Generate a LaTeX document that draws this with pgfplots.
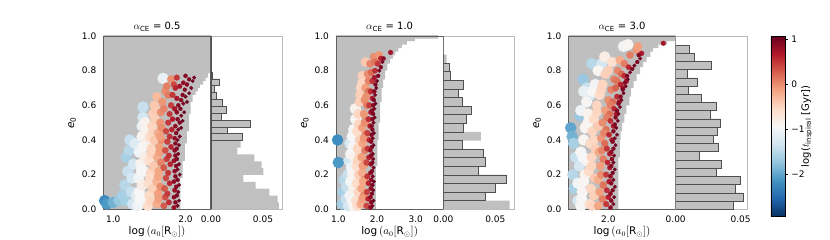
\documentclass[border=0pt]{standalone}
\usepackage{fontspec}
\setmainfont{DejaVu Sans}
\usepackage{amsmath}
\usepackage{pgfplots}
\usepackage{pgfplotstable}
\pgfplotsset{compat=1.18}

\definecolor{bggray}{RGB}{191,191,191}
\definecolor{histgray}{RGB}{192,192,192}
\definecolor{edgegray}{RGB}{80,80,80}
\definecolor{framegray}{RGB}{95,95,95}
\definecolor{lightframe}{RGB}{185,185,185}
\newcommand\tfont{\fontsize{9}{10}\selectfont}
\newcommand\lfont{\fontsize{10.5}{12}\selectfont}
\newcommand\ttfont{\fontsize{10}{11}\selectfont}

\pgfplotstableread{
x e c
0.88 0.05 -2.2
0.91 0.03 -2.1
1.00 0.04 -1.9
1.08 0.05 -1.7
1.13 0.08 -1.6
1.17 0.05 -1.6
1.16 0.14 -1.5
1.18 0.30 -1.6
1.22 0.34 -1.5
1.20 0.22 -1.4
1.25 0.10 -1.4
1.26 0.18 -1.3
1.28 0.26 -1.3
1.23 0.40 -1.4
1.30 0.38 -1.2
1.27 0.03 -1.3
1.32 0.08 -1.2
1.41 0.59 -1.4
1.41 0.53 -1.3
1.40 0.48 -1.1
1.69 0.755 -1.1
1.34 0.02 -1.0
1.36 0.10 -0.95
1.35 0.18 -1.0
1.38 0.26 -0.9
1.36 0.33 -1.0
1.40 0.42 -0.9
1.44 0.50 -0.85
1.43 0.06 -0.85
1.40 0.14 -0.8
1.42 0.22 -0.85
1.44 0.30 -0.8
1.45 0.38 -0.8
1.37 0.06 -0.95
1.39 0.22 -0.95
1.41 0.36 -0.9
1.46 0.45 -0.85
1.48 0.02 -0.6
1.50 0.08 -0.55
1.49 0.15 -0.6
1.52 0.21 -0.5
1.50 0.28 -0.6
1.53 0.35 -0.5
1.51 0.42 -0.55
1.54 0.48 -0.5
1.55 0.55 -0.45
1.57 0.60 -0.4
1.55 0.12 -0.45
1.56 0.25 -0.4
1.57 0.40 -0.4
1.60 0.65 -0.3
1.52 0.05 -0.5
1.51 0.18 -0.55
1.53 0.32 -0.5
1.55 0.45 -0.5
1.58 0.52 -0.45
1.60 0.57 -0.4
1.60 0.03 -0.2
1.62 0.09 -0.1
1.60 0.16 -0.25
1.63 0.22 -0.15
1.61 0.30 -0.2
1.64 0.36 -0.1
1.62 0.44 -0.2
1.65 0.50 -0.05
1.66 0.56 0.0
1.68 0.62 -0.05
1.72 0.68 0.0
1.80 0.75 0.0
1.76 0.66 0.1
1.65 0.13 0.0
1.66 0.27 0.05
1.67 0.40 0.0
1.63 0.06 -0.1
1.62 0.19 -0.15
1.64 0.33 -0.1
1.65 0.42 -0.1
1.67 0.47 0.0
1.70 0.58 0.05
1.74 0.71 0.1
1.70 0.02 0.3
1.72 0.07 0.35
1.71 0.12 0.3
1.73 0.18 0.4
1.70 0.24 0.3
1.74 0.29 0.45
1.72 0.34 0.35
1.75 0.39 0.45
1.73 0.45 0.4
1.76 0.50 0.5
1.78 0.55 0.5
1.80 0.60 0.45
1.82 0.66 0.5
1.84 0.72 0.4
1.88 0.76 0.5
1.77 0.04 0.55
1.78 0.15 0.6
1.79 0.26 0.6
1.80 0.36 0.6
1.81 0.46 0.6
1.86 0.70 0.6
1.75 0.09 0.5
1.76 0.21 0.5
1.77 0.31 0.55
1.78 0.42 0.55
1.82 0.52 0.65
1.85 0.58 0.7
1.88 0.64 0.7
1.92 0.71 0.75
1.84 0.01 0.8
1.89 0.02 1.0
1.86 0.04 0.9
1.91 0.05 1.05
1.84 0.07 0.85
1.88 0.08 0.95
1.90 0.10 1.0
1.85 0.11 0.8
1.87 0.13 0.9
1.91 0.14 1.0
1.84 0.16 0.85
1.89 0.17 0.95
1.86 0.19 0.9
1.92 0.20 1.05
1.85 0.22 0.85
1.89 0.23 1.0
1.87 0.25 0.9
1.91 0.26 1.0
1.84 0.28 0.8
1.88 0.29 0.95
1.86 0.31 0.9
1.90 0.32 1.0
1.85 0.34 0.85
1.88 0.35 0.95
1.91 0.37 1.05
1.86 0.38 0.9
1.89 0.40 1.0
1.85 0.41 0.85
1.92 0.42 1.0
1.87 0.44 0.9
1.90 0.46 1.0
1.94 0.47 1.05
1.86 0.48 0.85
1.92 0.50 0.95
1.96 0.51 1.05
1.89 0.52 0.9
1.94 0.54 1.0
1.88 0.56 0.85
1.98 0.56 1.05
1.93 0.58 0.95
1.90 0.60 0.9
1.97 0.61 1.0
2.02 0.62 1.05
1.94 0.63 0.9
2.00 0.65 1.0
1.96 0.66 0.95
2.05 0.67 1.05
1.99 0.69 0.95
2.08 0.70 1.0
2.02 0.72 0.9
1.97 0.73 0.85
2.10 0.74 1.05
2.05 0.75 0.95
2.12 0.76 1.0
2.00 0.77 0.9
}\pa

\pgfplotstableread{
x e c
0.98 0.40 -2.2
1.00 0.27 -2.1
1.10 0.03 -1.6
1.12 0.10 -1.6
1.15 0.17 -1.5
1.20 0.06 -1.4
1.22 0.13 -1.4
1.25 0.20 -1.4
1.26 0.02 -1.3
1.30 0.38 -1.3
1.28 0.28 -1.3
1.30 0.08 -1.0
1.32 0.16 -0.95
1.34 0.24 -1.0
1.32 0.32 -0.9
1.36 0.42 -0.95
1.40 0.02 -0.9
1.40 0.12 -0.85
1.42 0.30 -0.85
1.45 0.52 -0.9
1.40 0.46 -0.9
1.36 0.05 -0.95
1.37 0.20 -0.9
1.38 0.36 -0.95
1.44 0.58 -0.85
1.46 0.05 -0.6
1.48 0.15 -0.55
1.47 0.25 -0.6
1.50 0.35 -0.5
1.49 0.45 -0.55
1.52 0.55 -0.5
1.55 0.62 -0.45
1.58 0.70 -0.5
1.62 0.77 -0.45
1.70 0.85 -0.4
1.52 0.10 -0.5
1.53 0.20 -0.45
1.54 0.30 -0.5
1.55 0.40 -0.45
1.50 0.02 -0.55
1.51 0.28 -0.5
1.53 0.49 -0.5
1.56 0.66 -0.45
1.62 0.73 -0.5
1.58 0.03 -0.2
1.60 0.12 -0.15
1.62 0.21 -0.2
1.60 0.30 -0.1
1.63 0.38 -0.15
1.62 0.47 -0.1
1.66 0.55 -0.05
1.68 0.63 0.0
1.70 0.70 -0.1
1.76 0.78 0.0
1.82 0.84 0.05
1.92 0.88 0.0
2.05 0.89 -0.05
1.66 0.08 0.0
1.67 0.17 0.05
1.68 0.26 0.0
1.69 0.34 0.1
1.70 0.43 0.05
1.72 0.51 0.1
1.74 0.60 0.1
1.78 0.68 0.15
1.85 0.79 0.2
1.95 0.85 0.15
1.62 0.06 -0.1
1.64 0.16 -0.15
1.63 0.25 -0.1
1.66 0.41 -0.05
1.68 0.50 0.0
1.72 0.65 0.0
1.78 0.74 0.05
1.73 0.02 0.4
1.74 0.10 0.45
1.75 0.19 0.5
1.73 0.27 0.4
1.76 0.35 0.5
1.75 0.44 0.45
1.78 0.52 0.55
1.80 0.60 0.5
1.84 0.68 0.55
1.88 0.74 0.5
1.95 0.80 0.55
2.02 0.84 0.5
2.10 0.87 0.6
1.77 0.06 0.6
1.78 0.15 0.6
1.79 0.30 0.65
1.80 0.40 0.6
1.82 0.48 0.65
1.84 0.56 0.7
1.88 0.64 0.7
1.93 0.76 0.7
1.83 0.01 0.85
1.88 0.02 1.0
1.85 0.04 0.9
1.91 0.05 1.05
1.83 0.07 0.85
1.87 0.09 0.95
1.90 0.11 1.0
1.84 0.12 0.85
1.88 0.14 0.95
1.92 0.16 1.05
1.85 0.17 0.9
1.89 0.19 1.0
1.83 0.21 0.85
1.87 0.22 0.95
1.91 0.24 1.05
1.84 0.26 0.85
1.88 0.27 0.95
1.90 0.29 1.0
1.85 0.31 0.9
1.89 0.32 1.0
1.83 0.34 0.85
1.87 0.36 0.95
1.91 0.37 1.05
1.85 0.39 0.9
1.89 0.41 1.0
1.86 0.43 0.9
1.92 0.44 1.05
1.88 0.46 0.95
1.86 0.48 0.9
1.91 0.50 1.0
1.88 0.52 0.9
1.94 0.53 1.05
1.90 0.55 0.95
1.87 0.57 0.9
1.93 0.58 1.0
1.90 0.60 0.9
1.96 0.61 1.05
1.92 0.63 0.95
1.95 0.66 1.0
1.93 0.68 0.9
1.98 0.70 1.05
1.96 0.72 0.95
2.00 0.74 1.0
2.03 0.77 0.95
2.06 0.80 1.0
2.10 0.82 0.95
2.14 0.85 1.0
2.17 0.87 0.9
2.35 0.905 0.75
}\pb

\pgfplotstableread{
x e c
1.48 0.47 -2.0
1.50 0.42 -1.9
1.52 0.38 -1.6
1.53 0.12 -1.6
1.51 0.20 -1.5
1.61 0.54 -1.7
1.65 0.75 -1.7
1.77 0.84 -1.5
1.91 0.84 -1.3
1.75 0.66 -1.3
1.70 0.70 -1.4
1.55 0.30 -1.4
1.58 0.05 -1.3
1.60 0.25 -1.3
1.62 0.57 -1.0
1.58 0.15 -1.0
1.62 0.02 -0.95
1.64 0.10 -0.9
1.62 0.33 -0.95
1.66 0.40 -0.9
1.68 0.47 -0.9
1.70 0.62 -0.9
1.68 0.20 -0.85
1.70 0.28 -0.85
1.82 0.72 -1.0
1.86 0.80 -0.9
2.21 0.94 -1.0
2.27 0.95 -0.9
1.72 0.55 -0.85
1.66 0.68 -1.1
1.63 0.06 -0.95
1.66 0.16 -0.9
1.65 0.30 -0.95
1.72 0.50 -0.9
1.78 0.68 -0.95
1.95 0.88 -0.8
1.74 0.03 -0.6
1.76 0.12 -0.5
1.73 0.22 -0.55
1.77 0.30 -0.5
1.75 0.38 -0.55
1.78 0.45 -0.5
1.80 0.52 -0.55
1.84 0.60 -0.5
1.88 0.66 -0.55
1.92 0.72 -0.5
1.96 0.78 -0.45
2.05 0.85 -0.6
1.80 0.08 -0.45
1.81 0.18 -0.4
1.82 0.35 -0.45
1.86 0.48 -0.4
1.78 0.02 -0.5
1.77 0.25 -0.5
1.80 0.40 -0.5
1.84 0.56 -0.5
1.90 0.69 -0.5
2.00 0.80 -0.45
1.86 0.02 -0.15
1.88 0.10 -0.1
1.86 0.17 -0.2
1.89 0.25 -0.1
1.87 0.33 -0.15
1.90 0.41 -0.05
1.92 0.50 0.0
1.96 0.57 -0.1
2.00 0.63 0.0
2.04 0.69 0.05
2.08 0.75 0.1
2.13 0.80 0.05
2.16 0.86 -0.2
2.30 0.89 0.1
2.39 0.92 -0.05
2.41 0.94 -0.1
1.92 0.06 0.1
1.93 0.14 0.15
1.93 0.29 0.1
1.95 0.38 0.2
1.97 0.46 0.15
2.02 0.55 0.2
2.06 0.62 0.2
2.10 0.70 0.25
2.18 0.78 0.2
1.90 0.20 0.0
1.91 0.34 0.05
1.94 0.44 0.05
1.98 0.53 0.1
2.03 0.60 0.1
2.12 0.74 0.15
2.22 0.84 0.1
1.97 0.03 0.5
1.98 0.11 0.55
1.97 0.20 0.5
1.99 0.27 0.6
1.98 0.35 0.5
2.01 0.43 0.6
2.03 0.51 0.55
2.08 0.58 0.6
2.12 0.65 0.55
2.17 0.72 0.6
2.22 0.77 0.55
2.28 0.82 0.6
2.46 0.90 0.7
2.76 0.958 0.75
2.00 0.07 0.65
2.01 0.16 0.65
2.02 0.24 0.7
2.02 0.32 0.65
2.05 0.40 0.7
2.07 0.48 0.7
2.11 0.55 0.7
2.15 0.62 0.75
2.20 0.70 0.75
2.25 0.74 0.7
2.03 0.01 0.85
2.07 0.03 1.0
2.04 0.05 0.9
2.08 0.07 1.05
2.03 0.09 0.85
2.06 0.11 0.95
2.09 0.13 1.0
2.04 0.15 0.9
2.07 0.17 1.0
2.03 0.19 0.85
2.06 0.21 0.95
2.09 0.23 1.05
2.04 0.25 0.9
2.07 0.27 1.0
2.05 0.29 0.9
2.08 0.31 1.0
2.04 0.33 0.85
2.07 0.35 0.95
2.10 0.37 1.05
2.06 0.39 0.9
2.09 0.41 1.0
2.12 0.43 1.05
2.07 0.45 0.9
2.11 0.47 1.0
2.09 0.49 0.95
2.13 0.51 1.05
2.10 0.53 0.9
2.14 0.55 1.0
2.12 0.57 0.95
2.16 0.59 1.05
2.14 0.61 0.9
2.18 0.63 1.0
2.17 0.65 0.9
2.21 0.67 1.05
2.20 0.69 0.95
2.24 0.71 1.0
2.23 0.73 0.9
2.27 0.75 1.05
2.26 0.77 0.95
2.30 0.79 1.0
2.33 0.81 0.95
2.36 0.83 1.05
2.40 0.85 0.95
2.44 0.87 1.0
2.42 0.89 0.9
}\pc

\pgfplotsset{
  colormap={rdbur}{rgb255=(5,48,97) rgb255=(33,102,172) rgb255=(67,147,195) rgb255=(146,197,222) rgb255=(209,229,240) rgb255=(247,247,247) rgb255=(253,219,199) rgb255=(244,165,130) rgb255=(214,96,77) rgb255=(178,24,43) rgb255=(103,0,31)},
  sc/.style={
    scale only axis, width=107.5pt, height=173.3pt,
    ymin=0, ymax=1, ytick={0,0.2,0.4,0.6,0.8,1},
    yticklabels={0.0,0.2,0.4,0.6,0.8,1.0},
    major tick length=0pt, axis on top,
    axis line style={draw=framegray, line width=0.7pt},
    tick label style={font=\tfont},
    yticklabel style={xshift=-3.5pt},
    xticklabel style={yshift=-3pt},
    label style={font=\lfont},
    ylabel={\textit{e}\textsubscript{0}},
    ylabel style={at={(axis description cs:-0.29,0.5)}, anchor=center},
    xlabel={$\log\,(a_0[\text{R}_\odot])$},
    xlabel style={at={(axis description cs:0.5,0)}, anchor=center, yshift=-22.5pt},
    title style={font=\ttfont, at={(axis description cs:0.5,1)}, anchor=center, yshift=3.5pt},
    point meta min=-2.95, point meta max=1.07, colormap name=rdbur,
  },
  hi/.style={
    scale only axis, height=173.3pt, ymin=0, ymax=1, ytick=\empty, xmin=0,
    xtick={0,0.05}, xticklabels={0.00,0.05}, scaled x ticks=false, major tick length=0pt,
    axis line style={draw=lightframe, line width=0.6pt},
    tick label style={font=\tfont}, xticklabel style={yshift=-3pt},
  },
  pts/.style={
    scatter, only marks, mark=*, point meta=explicit,
    scatter/use mapped color={draw=mapped color, fill=mapped color},
    mark options={line width=0.2pt},
    visualization depends on={\thisrow{c} \as \cval},
    scatter/@pre marker code/.append style={/tikz/mark size={max(1.6,min(5.6,3.9-2.0*\cval))}},
  },
  hfill/.style={xbar interval, fill=histgray, draw=none},
  hline/.style={xbar interval, fill=histgray, draw=edgegray, line width=0.7pt},
}

\begin{document}
\begin{tikzpicture}
\useasboundingbox (0,0) rectangle (830pt,240pt);

% ---------- panel 1 ----------
\begin{axis}[sc, at={(103.3pt,30.7pt)}, anchor=south west,
  xmin=0.862, xmax=2.35, xtick={1,2}, xticklabels={1.0,2.0},
  title={$\alpha_{\text{CE}}$ = 0.5}]
\addplot[fill=bggray, draw=none] coordinates {(0.8,0) (1.93,0) (1.93,0.18) (1.96,0.18) (1.96,0.28) (1.99,0.28) (1.99,0.38) (2.02,0.38) (2.02,0.45) (2.05,0.45) (2.05,0.55) (2.07,0.55) (2.07,0.62) (2.10,0.62) (2.10,0.66) (2.14,0.66) (2.14,0.68) (2.17,0.68) (2.17,0.70) (2.20,0.70) (2.20,0.72) (2.24,0.72) (2.24,0.74) (2.28,0.74) (2.28,0.76) (2.31,0.76) (2.31,0.785) (2.4,0.785) (2.4,1.01) (0.8,1.01)} -- cycle;
\addplot[pts] table[x=x, y=e, meta=c] {\pa};
\end{axis}
\begin{axis}[hi, at={(211pt,30.7pt)}, anchor=south west, width=71.3pt, xmax=0.0686]
\addplot[hfill] coordinates {(0.0654,0) (0.0641,0.0396) (0.0561,0.0792) (0.0430,0.1188) (0.0311,0.1584) (0.0503,0.198) (0.0487,0.2376) (0.0417,0.2772) (0.0253,0.3168) (0.0285,0.3564) (0.0305,0.396) (0.0160,0.4356) (0.0382,0.4752) (0.0103,0.5148) (0.0151,0.5544) (0.0109,0.594) (0.0055,0.6336) (0.0032,0.6732) (0.0080,0.7128) (0.0013,0.7524) (0,0.792)};
\addplot[hline] coordinates {(0.0305,0.396) (0.0160,0.4356) (0.0382,0.4752) (0.0103,0.5148) (0.0151,0.5544) (0.0109,0.594) (0.0055,0.6336) (0.0032,0.6732) (0.0080,0.7128) (0.0013,0.7524) (0,0.792)};
\draw[edgegray, line width=0.9pt] (axis cs:0,0) -- (axis cs:0,1);
\end{axis}

% ---------- panel 2 ----------
\begin{axis}[sc, at={(336pt,30.7pt)}, anchor=south west, width=107.3pt,
  xmin=0.94, xmax=3.713, xtick={1,2,3}, xticklabels={1.0,2.0,3.0},
  title={$\alpha_{\text{CE}}$ = 1.0}]
\addplot[fill=bggray, draw=none] coordinates {(0.9,0) (1.97,0) (1.97,0.25) (2.01,0.25) (2.01,0.40) (2.04,0.40) (2.04,0.50) (2.08,0.50) (2.08,0.62) (2.12,0.62) (2.12,0.70) (2.16,0.70) (2.16,0.75) (2.21,0.75) (2.21,0.80) (2.27,0.80) (2.27,0.84) (2.34,0.84) (2.34,0.87) (2.41,0.87) (2.41,0.89) (2.47,0.89) (2.47,0.91) (2.55,0.91) (2.55,0.93) (2.64,0.93) (2.64,0.95) (2.77,0.95) (2.77,0.97) (2.98,0.97) (2.98,0.985) (3.58,0.985) (3.58,1.01) (0.9,1.01)} -- cycle;
\addplot[pts] table[x=x, y=e, meta=c] {\pb};
\end{axis}
\begin{axis}[hi, at={(443.3pt,30.7pt)}, anchor=south west, width=71pt, xmax=0.0683]
\addplot[hfill] coordinates {(0.0639,0) (0.0403,0.0496) (0.0504,0.0992) (0.0607,0.1488) (0.0334,0.1984) (0.0400,0.248) (0.0390,0.2976) (0.0179,0.3472) (0.0362,0.3968) (0.0195,0.4464) (0.0220,0.496) (0.0268,0.5456) (0.0183,0.5952) (0.0148,0.6448) (0.0195,0.6944) (0.0069,0.744) (0.0057,0.7936) (0.0031,0.8432) (0,0.8928) (0,0.9424) (0,0.992)};
\addplot[hline] coordinates {(0,0) (0.0403,0.0496) (0.0504,0.0992) (0.0607,0.1488) (0.0334,0.1984) (0.0400,0.248) (0.0390,0.2976) (0.0179,0.3472) (0,0.3968) (0.0195,0.4464) (0.0220,0.496) (0.0268,0.5456) (0.0183,0.5952) (0.0148,0.6448) (0.0195,0.6944) (0.0069,0.744) (0.0057,0.7936) (0,0.8432) (0,0.8928)};
\draw[edgegray, line width=0.9pt] (axis cs:0,0) -- (axis cs:0,1);
\end{axis}

% ---------- panel 3 ----------
\begin{axis}[sc, at={(568.3pt,30.7pt)}, anchor=south west, width=107.4pt,
  xmin=1.447, xmax=2.931, xtick={2}, xticklabels={2.0},
  title={$\alpha_{\text{CE}}$ = 3.0},
  colorbar,
  colorbar style={at={(parent axis.north east)}, anchor=north west, xshift=86.6pt,
    scale only axis, width=14.4pt, height=180.7pt,
    ytick={-2,-1,0,1}, yticklabels={−2,−1,0,1}, ytick pos=right, yticklabel pos=right,
    major tick length=2.5pt, tick align=outside,
    tick style={draw=black, line width=0.5pt},
    tick label style={font=\tfont},
    axis line style={draw=black, line width=0.5pt},
    ylabel={log($t_{\text{inspiral}}$ [Gyr])},
    ylabel style={font=\ttfont, at={(axis description cs:2.5,0.5)}, anchor=center}}]
\addplot[fill=bggray, draw=none] coordinates {(1.4,0) (2.14,0) (2.14,0.30) (2.16,0.30) (2.16,0.40) (2.17,0.40) (2.17,0.45) (2.19,0.45) (2.19,0.50) (2.22,0.50) (2.22,0.55) (2.25,0.55) (2.25,0.60) (2.29,0.60) (2.29,0.65) (2.31,0.65) (2.31,0.70) (2.35,0.70) (2.35,0.74) (2.39,0.74) (2.39,0.78) (2.44,0.78) (2.44,0.82) (2.48,0.82) (2.48,0.85) (2.53,0.85) (2.53,0.88) (2.58,0.88) (2.58,0.91) (2.62,0.91) (2.62,0.93) (2.69,0.93) (2.69,0.95) (2.81,0.95) (2.81,0.97) (3.0,0.97) (3.0,1.01) (1.4,1.01)} -- cycle;
\addplot[pts] table[x=x, y=e, meta=c] {\pc};
\end{axis}
\begin{axis}[hi, at={(675.7pt,30.7pt)}, anchor=south west, width=71.6pt, xmax=0.0551]
\addplot[hfill] coordinates {(0.0443,0) (0.0520,0.0474) (0.0461,0.0948) (0.0500,0.1422) (0.0314,0.1896) (0.0353,0.237) (0.0180,0.2844) (0.0332,0.3318) (0.0288,0.3792) (0.0322,0.4266) (0.0345,0.474) (0.0268,0.5214) (0.0314,0.5688) (0.0198,0.6162) (0.0095,0.6636) (0.0167,0.711) (0.0088,0.7584) (0.0276,0.8058) (0.0147,0.8532) (0.0103,0.9006) (0,0.948)};
\addplot[hline] coordinates {(0.0443,0) (0.0520,0.0474) (0.0461,0.0948) (0.0500,0.1422) (0.0314,0.1896) (0.0353,0.237) (0.0180,0.2844) (0.0332,0.3318) (0.0288,0.3792) (0.0322,0.4266) (0.0340,0.474) (0.0268,0.5214) (0.0314,0.5688) (0.0198,0.6162) (0.0095,0.6636) (0.0167,0.711) (0.0088,0.7584) (0.0276,0.8058) (0.0147,0.8532) (0.0103,0.9006) (0,0.948)};
\draw[edgegray, line width=0.9pt] (axis cs:0,0) -- (axis cs:0,1);
\end{axis}
\end{tikzpicture}
\end{document}
